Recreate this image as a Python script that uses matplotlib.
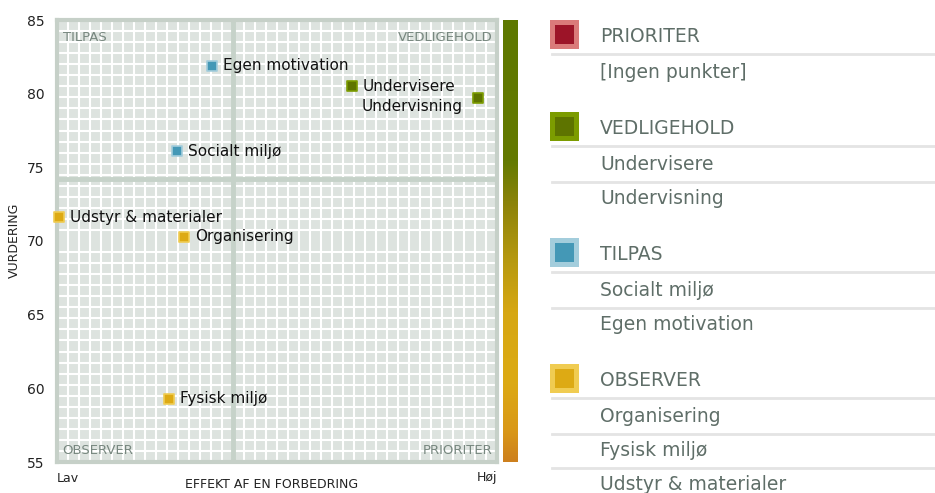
import numpy as np
import matplotlib
matplotlib.use("Agg")
import matplotlib.pyplot as plt
from matplotlib.colors import LinearSegmentedColormap
from matplotlib.patches import Rectangle
from matplotlib.lines import Line2D

# ---------------- data ----------------
names = ["Egen motivation", "Undervisere", "Undervisning", "Socialt miljø",
         "Udstyr & materialer", "Organisering", "Fysisk miljø"]
effekt = [35.2, 67.0, 95.7, 27.3, 0.5, 28.9, 25.5]
vurdering = [81.9, 80.5, 79.7, 76.1, 71.6, 70.3, 59.3]
groups = ["TILPAS", "VEDLIGEHOLD", "VEDLIGEHOLD", "TILPAS",
          "OBSERVER", "OBSERVER", "OBSERVER"]

x_split = 40
y_split = 74.2
y_ticks = [55, 60, 65, 70, 75, 80, 85]

legend_groups = ["PRIORITER", "VEDLIGEHOLD", "TILPAS", "OBSERVER"]
legend_items = {
    "PRIORITER": ["[Ingen punkter]"],
    "VEDLIGEHOLD": ["Undervisere", "Undervisning"],
    "TILPAS": ["Socialt miljø", "Egen motivation"],
    "OBSERVER": ["Organisering", "Fysisk miljø", "Udstyr & materialer"],
}

# ---------------- styles ----------------
inner = {"PRIORITER": "#9c1428", "VEDLIGEHOLD": "#5e7400",
         "TILPAS": "#4498b6", "OBSERVER": "#ddaa14"}
outer = {"PRIORITER": "#da7a7a", "VEDLIGEHOLD": "#7c9c00",
         "TILPAS": "#a3cddc", "OBSERVER": "#f0cc52"}

W, H = 935, 493
fig = plt.figure(figsize=(W / 100, H / 100), dpi=100)

def fx(px):
    return px / W

def fy(py):
    return 1 - py / H

# main axes
ax = fig.add_axes([fx(57), fy(462), fx(497) - fx(57), fy(20) - fy(462)])
ax.set_xlim(0, 100)
ax.set_ylim(55, 85)
ax.set_facecolor("#dde3df")
ax.set_xticks(np.linspace(0, 100, 41), minor=True)
ax.set_yticks(np.linspace(55, 85, 41), minor=True)
ax.set_xticks([])
ax.set_yticks(y_ticks)
ax.set_yticklabels([str(v) for v in y_ticks], fontsize=10, color="#222222")
ax.grid(which="minor", color="white", linewidth=1.5)
ax.tick_params(which="both", length=0, pad=9)
ax.set_axisbelow(True)
for s in ax.spines.values():
    s.set_color("#c6d0c8")
    s.set_linewidth(3)

ax.axvline(x_split, color="#c6d2c9", linewidth=3.5, zorder=1.5)
ax.axhline(y_split, color="#c6d2c9", linewidth=3.5, zorder=1.5)

# quadrant labels
qc = "#77877f"
ax.text(0.013, 0.975, "TILPAS", transform=ax.transAxes, ha="left", va="top", fontsize=9.5, color=qc)
ax.text(0.99, 0.975, "VEDLIGEHOLD", transform=ax.transAxes, ha="right", va="top", fontsize=9.5, color=qc)
ax.text(0.013, 0.012, "OBSERVER", transform=ax.transAxes, ha="left", va="bottom", fontsize=9.5, color=qc)
ax.text(0.99, 0.012, "PRIORITER", transform=ax.transAxes, ha="right", va="bottom", fontsize=9.5, color=qc)

# points
for n, x, y, g in zip(names, effekt, vurdering, groups):
    ax.scatter([x], [y], marker="s", s=55, color=inner[g], edgecolors=outer[g],
               linewidths=1.2, zorder=3, clip_on=False)
    if n == "Undervisning":
        ax.annotate(n, (x, y), xytext=(-11, -6), textcoords="offset points",
                    ha="right", va="center", fontsize=11, color="#111111", zorder=4)
    else:
        ax.annotate(n, (x, y), xytext=(8, 0), textcoords="offset points",
                    ha="left", va="center", fontsize=11, color="#111111", zorder=4)

# axis labels
fig.text(fx(57), fy(478), "Lav", ha="left", va="center", fontsize=9, color="#222222")
fig.text(fx(497), fy(478), "Høj", ha="right", va="center", fontsize=9, color="#222222")
fig.text(fx(272), fy(484), "EFFEKT AF EN FORBEDRING", ha="center", va="center", fontsize=9, color="#222222")
fig.text(fx(14), fy(240), "VURDERING", ha="center", va="center", rotation=90, fontsize=9, color="#222222")

# color bar
cax = fig.add_axes([fx(503), fy(462), fx(518) - fx(503), fy(20) - fy(462)])
cmap = LinearSegmentedColormap.from_list("bar", [
    (0.0, "#cd801e"), (0.07, "#d99818"), (0.18, "#dcaa14"), (0.34, "#d6a713"),
    (0.45, "#b89a10"), (0.58, "#8e840a"), (0.68, "#647a01"), (1.0, "#5e7800")])
grad = np.linspace(0, 1, 256).reshape(-1, 1)
cax.imshow(grad, aspect="auto", cmap=cmap, origin="lower", extent=[0, 1, 55, 85])
cax.set_axis_off()

# legend panel
lax = fig.add_axes([0, 0, 1, 1], facecolor="none")
lax.set_xlim(0, W)
lax.set_ylim(H, 0)
lax.set_axis_off()
tc = "#5f6e68"
y = 37
for gname in legend_groups:
    lax.add_patch(Rectangle((550, y - 17), 29, 29, facecolor=outer[gname], edgecolor="none"))
    lax.add_patch(Rectangle((555, y - 12), 19, 19, facecolor=inner[gname], edgecolor="none"))
    lax.text(600, y, gname, ha="left", va="center", fontsize=13.5, color=tc)
    yy = y
    for i, item in enumerate(legend_items[gname]):
        lax.add_line(Line2D([552, W], [yy + 17, yy + 17], color="#e4e4e4", linewidth=2))
        yy += 36 if i == 0 else 34
        lax.text(600, yy, item, ha="left", va="center", fontsize=13.5, color=tc)
    y = yy + 56

fig.savefig("out.png", dpi=100)
